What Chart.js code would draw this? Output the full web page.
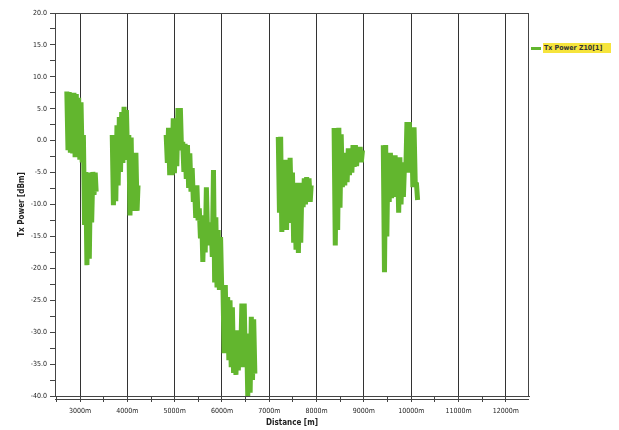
<!DOCTYPE html>
<html>
<head>
<meta charset="utf-8">
<script src="https://cdn.jsdelivr.net/npm/chart.js@4.4.1/dist/chart.umd.min.js"></script>
<style>
  body { margin: 0; background: #fff; }
  #wrap { position: relative; width: 619px; height: 430px; }
  #legend { position: absolute; left: 531px; top: 43px; height: 10px; display: flex; align-items: center; font: bold 7px 'DejaVu Sans Condensed', 'Liberation Sans', sans-serif; color: #333; }
  #legend .swatch { width: 10px; height: 3px; background: #62b62e; margin-right: 2px; }
  #legend .txt { background: #f6e43c; padding: 1px 9px 1px 1px; line-height: 8px; }
</style>
</head>
<body>
<div id="wrap">
  <canvas id="c" width="619" height="430"></canvas>
  <div id="legend"><span class="swatch"></span><span class="txt">Tx Power Z10[1]</span></div>
</div>
<script>
// distance [m] / Tx power [dBm], one pair of arrays per measured stretch
const seg1Dist  = [2720, 2745, 2770, 2795, 2820, 2845, 2870, 2895, 2920, 2945, 2970, 2995, 3020, 3045, 3070, 3095, 3120, 3145, 3170, 3195, 3220, 3245, 3270, 3295, 3320, 3340];
const seg1Power = [7.7, -1.5, 7.6, -1.9, 7.5, -2.0, 7.5, -2.6, 7.3, -2.6, 6.7, -3.0, 6.0, -3.4, 0.9, -13.2, -4.9, -19.5, -5.0, -18.5, -5.4, -12.8, -4.9, -8.5, -5.0, -8.0];

const seg2Dist  = [3680, 3705, 3730, 3755, 3780, 3805, 3830, 3855, 3880, 3905, 3930, 3955, 3980, 4005, 4030, 4055, 4080, 4105, 4130, 4155, 4180, 4205, 4225];
const seg2Power = [0.9, -10.1, 0.9, -9.5, 2.4, -7.0, 3.7, -4.9, 4.5, -3.5, 5.3, -2.7, 4.8, -3.0, 0.9, -11.7, 0.5, -11.0, -1.9, -7.4, -1.9, -11.0, -7.0];

const seg3Dist  = [4820, 4845, 4870, 4895, 4920, 4945, 4970, 4995, 5020, 5045, 5070, 5095, 5120, 5145, 5170, 5195, 5220, 5245, 5270, 5295,
                   5320, 5345, 5370, 5395, 5420, 5445, 5470, 5495, 5520, 5545, 5570, 5595, 5620, 5645, 5670, 5695, 5720, 5745, 5770, 5795,
                   5820, 5845, 5870, 5895, 5920, 5945, 5970, 5995, 6020, 6045, 6070, 6095, 6120, 6145, 6170, 6195, 6220, 6245, 6270, 6295,
                   6320, 6345, 6370, 6395, 6420, 6445, 6470, 6495, 6520, 6545, 6570, 6595, 6620, 6645, 6670, 6695];
const seg3Power = [0.9, -3.5, 2.0, -5.4, 2.0, -5.4, 3.5, -5.1, 3.5, -4.0, 5.1, -1.2, 5.1, -1.5, -0.2, -4.9, -0.5, -6.0, -0.7, -7.4,
                   -2.0, -8.0, -4.3, -9.6, -7.0, -12.1, -7.0, -12.5, -10.6, -15.3, -11.7, -19.0, -11.7, -17.5, -7.3, -14.8, -12.8, -16.4, -12.8, -18.2,
                   -4.6, -22.2, -12.0, -23.0, -14.0, -23.4, -15.1, -23.4, -22.6, -33.3, -22.6, -32.0, -24.5, -34.4, -25.0, -35.5, -26.1, -36.4, -29.7, -36.7,
                   -29.7, -36.0, -31.3, -34.4, -25.5, -35.5, -25.5, -35.0, -30.2, -40.0, -30.5, -39.5, -27.6, -37.5, -28.0, -36.5];

const seg4Dist  = [7190, 7215, 7240, 7265, 7290, 7315, 7340, 7365, 7390, 7415, 7440, 7465, 7490, 7515, 7540, 7565, 7590, 7615, 7640, 7665, 7690, 7715, 7740, 7765, 7790, 7815, 7840, 7865, 7885];
const seg4Power = [0.6, -11.3, 0.6, -14.3, -4.6, -13.0, -3.0, -14.0, -3.4, -12.9, -2.7, -10.5, -5.0, -16.0, -7.0, -17.1, -6.6, -17.6, -8.5, -16.0, -6.6, -10.4, -5.9, -10.0, -5.7, -9.6, -5.9, -9.6, -7.0];

const seg5Dist  = [8370, 8395, 8420, 8445, 8470, 8495, 8520, 8545, 8570, 8595, 8620, 8645, 8670, 8695, 8720, 8745, 8770, 8795, 8820, 8845, 8870, 8895, 8920, 8945, 8970];
const seg5Power = [2.0, -16.4, 1.5, -14.0, 2.0, -10.5, 1.0, -7.3, -1.9, -7.0, -2.0, -6.5, -1.2, -5.4, -1.2, -5.0, -0.7, -4.1, -0.7, -4.0, -1.0, -3.4, -1.0, -3.4, -1.5];

const seg6Dist  = [9410, 9435, 9460, 9485, 9510, 9535, 9560, 9585, 9610, 9635, 9660, 9685, 9710, 9735, 9760, 9785, 9810, 9835, 9860, 9885, 9910, 9935, 9960, 9985, 10010, 10035, 10060, 10085, 10110, 10135];
const seg6Power = [-0.7, -20.6, -0.7, -15.0, -1.9, -9.6, -1.9, -9.0, -2.3, -8.8, -2.3, -8.8, -2.6, -11.3, -2.6, -10.0, -3.4, -8.8, -3.4, -5.0, 2.9, -4.6, 2.9, -5.0, 2.1, -7.3, 2.1, -6.6, -6.6, -9.3];

// axis ticks: every 500 m on x (labels on the thousands), every 2.5 dBm on y
const xTicks = [2500, 3000, 3500, 4000, 4500, 5000, 5500, 6000, 6500, 7000, 7500, 8000, 8500, 9000, 9500, 10000, 10500, 11000, 11500, 12000];

const segments = [[seg1Dist, seg1Power], [seg2Dist, seg2Power], [seg3Dist, seg3Power],
                  [seg4Dist, seg4Power], [seg5Dist, seg5Power], [seg6Dist, seg6Power]];

const points = [];
segments.forEach(([d, p], s) => {
  if (s > 0) points.push({ x: d[0] - 1, y: null });
  d.forEach((x, i) => points.push({ x, y: p[i] }));
});

const TICK_FONT = { size: 7, family: "'DejaVu Sans Condensed', 'Liberation Sans', sans-serif" };
const TITLE_FONT = { size: 8, weight: 'bold', family: "'DejaVu Sans Condensed', 'Liberation Sans', sans-serif" };

const frame = {
  id: 'frame',
  afterDraw(chart) {
    const { ctx, chartArea: a } = chart;
    ctx.save();
    ctx.strokeStyle = '#444';
    ctx.lineWidth = 1;
    ctx.strokeRect(a.left + 0.5, a.top + 0.5, a.right - a.left - 1, a.bottom - a.top);
    ctx.beginPath();
    ctx.moveTo(a.left, a.bottom + 3.5);
    ctx.lineTo(a.right, a.bottom + 3.5);
    ctx.stroke();
    ctx.restore();
  }
};

new Chart(document.getElementById('c'), {
  type: 'line',
  data: {
    datasets: [{
      label: 'Tx Power Z10[1]',
      data: points,
      borderColor: '#62b62e',
      borderWidth: 5,
      borderCapStyle: 'butt',
      borderJoinStyle: 'bevel',
      pointRadius: 0,
      tension: 0,
      spanGaps: false,
    }]
  },
  options: {
    responsive: false,
    animation: false,
    layout: { padding: { top: 13, right: 90, left: 0, bottom: 0 } },
    plugins: { legend: { display: false }, tooltip: { enabled: false } },
    scales: {
      x: {
        type: 'linear',
        min: 2470,
        max: 12490,
        afterBuildTicks: s => { s.ticks = xTicks.map(v => ({ value: v })); },
        afterFit: s => { s.height = 34; },
        border: { color: '#444' },
        grid: {
          color: c => (c.tick && c.tick.value % 1000 === 0 ? '#333' : 'transparent'),
          tickColor: '#444',
          tickLength: 6,
        },
        ticks: {
          maxRotation: 0,
          autoSkip: false,
          padding: 5,
          color: '#222',
          font: TICK_FONT,
          callback: v => (v % 1000 === 0 ? v + 'm' : ''),
        },
        title: { display: true, text: 'Distance [m]', color: '#222', font: TITLE_FONT, padding: { top: 0, bottom: 2 } },
      },
      y: {
        min: -40,
        max: 20,
        afterFit: s => { s.width = 55; },
        border: { color: '#444' },
        grid: { drawOnChartArea: false, color: '#444', tickLength: 5 },
        ticks: {
          stepSize: 2.5,
          autoSkip: false,
          padding: 3,
          color: '#222',
          font: TICK_FONT,
          callback: v => (v % 5 === 0 ? v.toFixed(1) : ''),
        },
        title: { display: true, text: 'Tx Power [dBm]', color: '#222', font: TITLE_FONT, padding: { top: 17, bottom: 0 } },
      },
    },
  },
  plugins: [frame],
});
</script>
</body>
</html>
